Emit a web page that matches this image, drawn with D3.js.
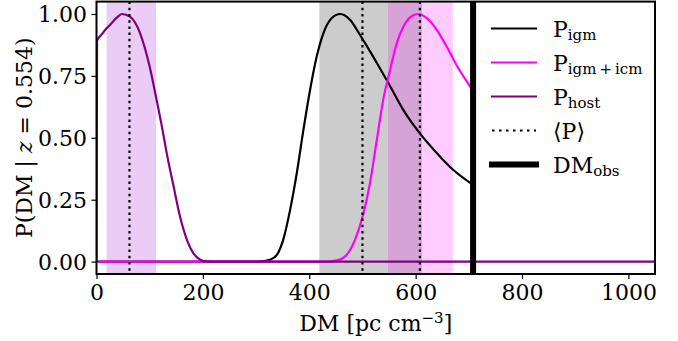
<!DOCTYPE html>
<html>
<head>
<meta charset="utf-8">
<script src="https://cdn.jsdelivr.net/npm/d3@7"></script>
<style>
  body { margin: 0; background: #fff; }
  svg text { font-family: "DejaVu Serif", serif; fill: #000; }
</style>
</head>
<body>
<div id="chart"></div>
<script>
// values
const dmHost = [0, 1, 10, 19, 27, 38, 48, 63, 82, 100, 113, 123, 132, 145, 157, 170, 182, 195, 201, 215, 1050];
const pHost = [0, 0.892, 0.918, 0.942, 0.96, 0.985, 1.0, 0.989, 0.922, 0.787, 0.653, 0.545, 0.438, 0.303, 0.182, 0.088, 0.034, 0.008, 0.002, 0, 0];

const dmIgm = [0, 300, 315, 326, 339, 351, 364, 376.5, 389, 401.5, 414, 426.5, 442, 458, 477, 495.5, 514, 533, 549, 577, 608, 640, 671, 708];
const pIgm = [0, 0, 0.002, 0.007, 0.027, 0.088, 0.209, 0.357, 0.532, 0.693, 0.828, 0.922, 0.983, 1.0, 0.976, 0.915, 0.85, 0.78, 0.72, 0.612, 0.518, 0.438, 0.37, 0.31];

const dmIcm = [0, 430, 452, 470, 486, 502, 514, 527, 539, 552, 564.5, 577, 593, 605, 621, 640, 658.5, 677, 708];
const pIcm = [0, 0, 0.005, 0.027, 0.088, 0.195, 0.315, 0.491, 0.653, 0.774, 0.882, 0.949, 0.992, 1.0, 0.983, 0.935, 0.868, 0.793, 0.69];

const hostBand = [19, 112];
const igmBand = [419, 612];
const icmBand = [548, 670];
const meanHost = 62, meanIgm = 500, meanIcm = 608;
const dmObs = 708;

const xTicks = [0, 200, 400, 600, 800, 1000];
const yTicks = [0, 0.25, 0.5, 0.75, 1.0];

const W = 678, H = 341;
const margin = { top: 1.6, right: 23, bottom: 67, left: 96.5 };
const fs = 22;
const serif = "DejaVu Serif, serif";

const svg = d3.select("#chart").append("svg")
  .attr("width", W).attr("height", H)
  .attr("font-family", serif);

const x = d3.scaleLinear().domain([0, 1050]).range([margin.left, W - margin.right]);
const y = d3.scaleLinear().domain([-0.05, 1.05]).range([H - margin.bottom, margin.top]);

svg.append("clipPath").attr("id", "clip")
  .append("rect")
  .attr("x", x(0)).attr("y", y(1.05))
  .attr("width", x(1050) - x(0)).attr("height", y(-0.05) - y(1.05));

const plot = svg.append("g").attr("clip-path", "url(#clip)");

// shaded ranges
const bands = [
  { r: hostBand, color: "darkviolet" },
  { r: igmBand, color: "black" },
  { r: icmBand, color: "magenta" }
];
plot.selectAll("rect.band").data(bands).enter().append("rect")
  .attr("class", "band")
  .attr("x", d => x(d.r[0]))
  .attr("width", d => x(d.r[1]) - x(d.r[0]))
  .attr("y", y(1.05))
  .attr("height", y(-0.05) - y(1.05))
  .attr("fill", d => d.color)
  .attr("fill-opacity", 0.2);

const line = d3.line()
  .x(d => x(d[0]))
  .y(d => y(d[1]))
  .curve(d3.curveMonotoneX);

const series = [
  { dm: dmIgm, p: pIgm, color: "black" },
  { dm: dmIcm, p: pIcm, color: "magenta" },
  { dm: dmHost, p: pHost, color: "purple" }
];
series.forEach(s => {
  plot.append("path")
    .datum(d3.zip(s.dm, s.p))
    .attr("fill", "none")
    .attr("stroke", s.color)
    .attr("stroke-width", 2.2)
    .attr("d", line);
});

// mean markers
plot.selectAll("line.mean").data([meanHost, meanIgm, meanIcm]).enter().append("line")
  .attr("class", "mean")
  .attr("x1", d => x(d)).attr("x2", d => x(d))
  .attr("y1", y(1.05)).attr("y2", y(-0.05))
  .attr("stroke", "black")
  .attr("stroke-width", 2.2)
  .attr("stroke-dasharray", "2.5,3.7");

plot.append("line")
  .attr("x1", x(dmObs)).attr("x2", x(dmObs))
  .attr("y1", y(1.05)).attr("y2", y(-0.05))
  .attr("stroke", "black")
  .attr("stroke-width", 6);

// axes
const xAxis = svg.append("g")
  .attr("transform", "translate(0," + y(-0.05) + ")")
  .call(d3.axisBottom(x).tickValues(xTicks).tickSize(5).tickFormat(d3.format("d")))
  .attr("font-family", serif).attr("font-size", fs);
xAxis.select(".domain").remove();
xAxis.selectAll(".tick line").attr("stroke-width", 1.2);
xAxis.selectAll(".tick text")
  .attr("y", 26).attr("dy", 0)
  .style("font-family", serif).style("font-size", fs + "px");

const yAxis = svg.append("g")
  .attr("transform", "translate(" + x(0) + ",0)")
  .call(d3.axisLeft(y).tickValues(yTicks).tickSize(5).tickFormat(d3.format(".2f")))
  .attr("font-family", serif).attr("font-size", fs);
yAxis.select(".domain").remove();
yAxis.selectAll(".tick line").attr("stroke-width", 1.2);
yAxis.selectAll(".tick text")
  .attr("x", -9.5).attr("dy", "0.36em")
  .style("font-family", serif).style("font-size", fs + "px");

svg.append("rect")
  .attr("x", x(0)).attr("y", y(1.05))
  .attr("width", x(1050) - x(0)).attr("height", y(-0.05) - y(1.05))
  .attr("fill", "none").attr("stroke", "black").attr("stroke-width", 2);

// axis titles
const xt = svg.append("text")
  .attr("x", (x(0) + x(1050)) / 2).attr("y", 331)
  .attr("text-anchor", "middle").attr("font-size", fs);
xt.append("tspan").text("DM [pc cm");
xt.append("tspan").attr("font-size", 15).attr("dy", -8).text("\u22123");
xt.append("tspan").attr("dy", 8).text("]");

const yt = svg.append("text")
  .attr("transform", "translate(32," + (y(1.05) + y(-0.05)) / 2 + ") rotate(-90)")
  .attr("text-anchor", "middle").attr("font-size", fs);
yt.append("tspan").text("P(DM | ");
yt.append("tspan").attr("font-style", "italic").text("z");
yt.append("tspan").text(" = 0.554)");

// legend
const legendItems = [
  { main: "P", sub: "igm", color: "black", w: 2.2, dash: null },
  { main: "P", sub: "igm\u2009+\u2009icm", color: "magenta", w: 2.2, dash: null },
  { main: "P", sub: "host", color: "purple", w: 2.2, dash: null },
  { main: "\u27E8P\u27E9", sub: "", color: "black", w: 2.2, dash: "2.5,4.5" },
  { main: "DM", sub: "obs", color: "black", w: 6, dash: null }
];
const lg = svg.append("g").attr("transform", "translate(492,28.5)");
const item = lg.selectAll("g").data(legendItems).enter().append("g")
  .attr("transform", (d, i) => "translate(0," + i * 34 + ")");
item.append("line")
  .attr("x1", 0).attr("x2", 44)
  .attr("stroke", d => d.color)
  .attr("stroke-width", d => d.w)
  .attr("stroke-linecap", d => d.dash ? "butt" : "square")
  .attr("stroke-dasharray", d => d.dash);
const lt = item.append("text").attr("x", 61).attr("y", 8).attr("font-size", fs);
lt.append("tspan").text(d => d.main);
lt.append("tspan").attr("font-size", 15).attr("dy", 3).text(d => d.sub);
</script>
</body>
</html>
